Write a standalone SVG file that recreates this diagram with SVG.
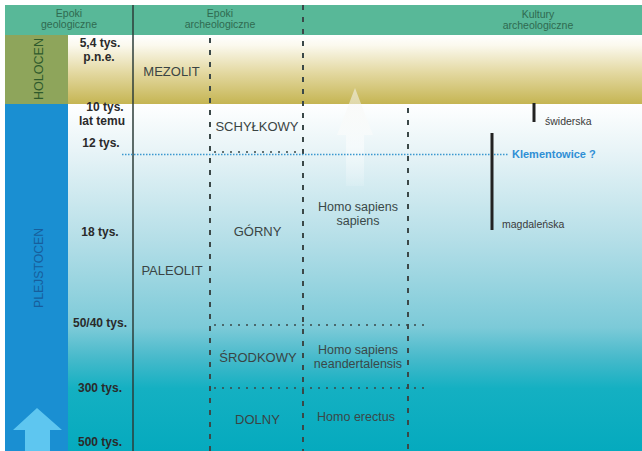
<svg xmlns="http://www.w3.org/2000/svg" width="642" height="451" viewBox="0 0 642 451">
<defs>
<linearGradient id="gHol" x1="0" y1="0" x2="0" y2="1">
<stop offset="0" stop-color="#ffffff"/>
<stop offset="0.15" stop-color="#fbf9ee"/>
<stop offset="0.55" stop-color="#e3d8a0"/>
<stop offset="1" stop-color="#c5b553"/>
</linearGradient>
<linearGradient id="gPle" x1="0" y1="0" x2="0" y2="1">
<stop offset="0" stop-color="#ffffff"/>
<stop offset="0.134" stop-color="#e8f4f7"/>
<stop offset="0.385" stop-color="#b6dfe8"/>
<stop offset="0.644" stop-color="#7ccad8"/>
<stop offset="0.73" stop-color="#48bacb"/>
<stop offset="0.82" stop-color="#14b0c2"/>
<stop offset="1" stop-color="#05aabe"/>
</linearGradient>
<linearGradient id="gGhost" x1="0" y1="0" x2="0" y2="1">
<stop offset="0" stop-color="#f4f4f0" stop-opacity="0.55"/>
<stop offset="0.6" stop-color="#ffffff" stop-opacity="0.5"/>
<stop offset="1" stop-color="#ffffff" stop-opacity="0.12"/>
</linearGradient>
<style>
.hdr{font-family:"Liberation Sans",Arial,sans-serif;font-size:10.5px;fill:#2f6a50;text-anchor:middle}
.date{font-family:"Liberation Sans",Arial,sans-serif;font-size:12px;font-weight:bold;fill:#2a2a2a;text-anchor:middle}
.epo{font-family:"Liberation Sans",Arial,sans-serif;font-size:13px;fill:#3a4444;text-anchor:middle}
.homo{font-family:"Liberation Sans",Arial,sans-serif;font-size:12.5px;fill:#3a4848;text-anchor:middle}
.cul{font-family:"Liberation Sans",Arial,sans-serif;font-size:10.5px;fill:#3a3a3a}
.era{font-family:"Liberation Sans",Arial,sans-serif;font-size:13px;text-anchor:middle}
.dash{stroke:#3b4848;stroke-width:2;stroke-dasharray:5 7;fill:none}
.dot{stroke:#3b4848;stroke-width:1.5;stroke-dasharray:2 6;fill:none}
.bar{stroke:#222;stroke-width:3}
</style>
</defs>
<rect x="0" y="0" width="642" height="451" fill="#ffffff"/>
<g id="background">
<rect x="68" y="35" width="574" height="69" fill="url(#gHol)"/>
<rect x="68" y="104" width="574" height="347" fill="url(#gPle)"/>
<rect x="5" y="5" width="637" height="30" fill="#58b898"/>
<polygon points="355,88 373,135 364,135 364,186 346,186 346,135 337,135" fill="url(#gGhost)"/>
</g>
<g id="holocen">
<rect x="5" y="35" width="63" height="69" fill="#8ea55b"/>
<text class="era" fill="#2e5a2c" transform="translate(43,69) rotate(-90)" textLength="62" lengthAdjust="spacingAndGlyphs">HOLOCEN</text>
</g>
<g id="plejstocen">
<rect x="5" y="104" width="63" height="347" fill="#1a8fd2"/>
<text class="era" fill="#175e9c" transform="translate(43,268) rotate(-90)" textLength="80" lengthAdjust="spacingAndGlyphs">PLEJSTOCEN</text>
<polygon points="37,408 62,430 50,430 50,451 25,451 25,430 13,430" fill="#5ec6f0"/>
</g>
<g id="connectors">
<line x1="133" y1="5" x2="133" y2="451" stroke="#2d3d38" stroke-width="1.5"/>
<line class="dash" x1="210" y1="38" x2="210" y2="451"/>
<line class="dash" x1="303" y1="5" x2="303" y2="451"/>
<line class="dash" x1="408" y1="108" x2="408" y2="451"/>
<line class="dot" x1="214" y1="152" x2="300" y2="152"/>
<line class="dot" x1="214" y1="325" x2="424" y2="325"/>
<line class="dot" x1="214" y1="388" x2="424" y2="388"/>
<line x1="122" y1="154.5" x2="508" y2="154.5" stroke="#3a98d0" stroke-width="1.3" stroke-dasharray="1.5 1.5"/>
<line class="bar" x1="534" y1="103" x2="534" y2="122"/>
<line class="bar" x1="492" y1="133" x2="492" y2="230"/>
</g>
<g id="header">
<text class="hdr" x="69" y="17">Epoki</text>
<text class="hdr" x="69" y="28">geologiczne</text>
<text class="hdr" x="220" y="17">Epoki</text>
<text class="hdr" x="220" y="28">archeologiczne</text>
<text class="hdr" x="538" y="18">Kultury</text>
<text class="hdr" x="538" y="29">archeologiczne</text>
</g>
<g id="dates">
<text class="date" x="100" y="47">5,4 tys.</text>
<text class="date" x="99" y="61">p.n.e.</text>
<text class="date" x="105" y="111">10 tys.</text>
<text class="date" x="102" y="125">lat temu</text>
<text class="date" x="101" y="147">12 tys.</text>
<text class="date" x="100" y="236">18 tys.</text>
<text class="date" x="100" y="327">50/40 tys.</text>
<text class="date" x="100" y="392">300 tys.</text>
<text class="date" x="100" y="446">500 tys.</text>
</g>
<g id="mezolit"><text class="epo" x="171.5" y="76">MEZOLIT</text></g>
<g id="paleolit"><text class="epo" x="172" y="275">PALEOLIT</text></g>
<g id="schylkowy"><text class="epo" x="257" y="131">SCHYŁKOWY</text></g>
<g id="gorny"><text class="epo" x="257.5" y="236">GÓRNY</text></g>
<g id="srodkowy"><text class="epo" x="258" y="362">ŚRODKOWY</text></g>
<g id="dolny"><text class="epo" x="257.5" y="424">DOLNY</text></g>
<g id="hss"><text class="homo" x="358" y="211">Homo sapiens</text><text class="homo" x="358" y="225">sapiens</text></g>
<g id="hsn"><text class="homo" x="358" y="354">Homo sapiens</text><text class="homo" x="358" y="368">neandertalensis</text></g>
<g id="he"><text class="homo" x="356" y="421">Homo erectus</text></g>
<g id="swiderska"><text class="cul" x="545" y="125">świderska</text></g>
<g id="magdalenska"><text class="cul" x="502" y="228">magdaleńska</text></g>
<g id="klementowice"><text class="cul" x="512" y="158" style="fill:#2f8fd5;font-weight:bold;font-size:11px">Klementowice ?</text></g>
</svg>
